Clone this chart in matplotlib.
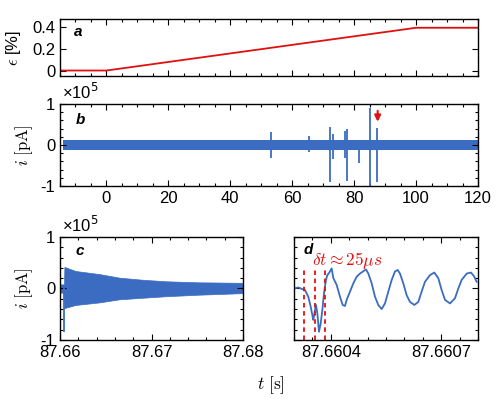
import numpy as np
import matplotlib
matplotlib.use('Agg')
import matplotlib.pyplot as plt
from matplotlib.ticker import MultipleLocator, FormatStrFormatter

plt.rcParams['font.family'] = ['Liberation Sans', 'DejaVu Sans']
plt.rcParams['mathtext.fontset'] = 'cm'
plt.rcParams['axes.unicode_minus'] = False

blue = '#3b6cc2'
red = '#e01010'

#%% data
# a: strain ramp
a_t = [-15, 0, 100, 120]
a_eps = [0.0, 0.0, 0.39, 0.39]

# b: background noise band (x1e5 pA) and spikes
b_band_t = [-14, 120]
b_band_hi = [0.12, 0.12]
b_band_lo = [-0.11, -0.11]
b_spike_t = [53.2, 65.5, 72.2, 73.2, 77.1, 77.6, 81.7, 85.1, 87.5]
b_spike_hi = [0.31, 0.22, 0.43, 0.27, 0.35, 0.40, 0.12, 0.90, 0.42]
b_spike_lo = [-0.32, -0.16, -0.90, -0.33, -0.32, -0.88, -0.43, -1.0, -0.90]
b_arrow_t = 87.6

# c: envelope of the ringing after the event
c_t = [87.6600, 87.66044, 87.66048, 87.6617, 87.6643, 87.6665, 87.6690,
       87.6716, 87.6752, 87.6800]
c_hi = [0.08, 0.08, 0.42, 0.34, 0.28, 0.21, 0.17, 0.14, 0.12, 0.11]
c_lo = [-0.08, -0.08, -0.38, -0.32, -0.27, -0.21, -0.18, -0.15, -0.12, -0.09]
c_spike_t = 87.66046
c_spike_lo = -0.84

# d: close-up, time in microseconds after 87.6603 s
d_t0 = 87.6603
d_us = [0, 11.8, 25.3, 29.9, 38.9, 45.3, 50.7, 52.5, 57.1, 59.8, 63.4, 67.9,
        72.5, 77.0, 81.5, 86.9, 90.6, 96.0, 102.3, 106.9, 115.9, 125.0, 132.2,
        138.6, 143.1, 152.2, 161.2, 170.3, 179.3, 195.6, 202.0, 211.1, 220.1,
        229.1, 238.2, 247.2, 256.3, 265.4, 274.4, 281.7, 288.0, 297.0, 306.1,
        315.2, 327.0, 337.8, 346.9, 355.9, 369.5, 381.3, 392.1, 401.2, 410.3,
        423.9, 437.4, 446.5, 455.5, 469.2, 480.9, 490.0, 496.3]
d_val = [0.00, 0.02, -0.02, -0.03, -0.16, -0.35, -0.55, -0.61, -0.42, -0.32,
         -0.48, -0.84, -0.68, -0.42, -0.09, 0.165, 0.26, 0.31, 0.39, 0.20,
         0.07, -0.16, -0.32, -0.34, -0.22, -0.06, 0.10, 0.23, 0.29, 0.37,
         0.29, 0.10, -0.16, -0.32, -0.40, -0.29, -0.06, 0.165, 0.33, 0.36,
         0.29, 0.10, -0.13, -0.26, -0.32, -0.26, -0.06, 0.13, 0.26, 0.31,
         0.20, -0.03, -0.22, -0.29, -0.19, 0.00, 0.165, 0.29, 0.31, 0.23, 0.13]
d_marks_us = [28, 58, 85]
d_marks_top = 0.39

#%% figure
fig = plt.figure(figsize=(5, 3.99), dpi=100)
ax_a = fig.add_axes([0.12, 0.8095, 0.836, 0.1429])
ax_b = fig.add_axes([0.12, 0.5338, 0.836, 0.2055])
ax_c = fig.add_axes([0.12, 0.1479, 0.366, 0.2581])
ax_d = fig.add_axes([0.588, 0.1479, 0.368, 0.2581])

for ax in [ax_a, ax_b, ax_c, ax_d]:
    ax.tick_params(which='both', direction='in', top=True, right=True,
                   labelsize=12, width=0.8)
    ax.tick_params(which='major', length=4)
    ax.tick_params(which='minor', length=2.2)
    for s in ax.spines.values():
        s.set_linewidth(1.0)

# a
ax_a.plot(a_t, a_eps, color=red, lw=1.3)
ax_a.set_xlim(-15, 120)
ax_a.set_ylim(-0.05, 0.47)
ax_a.xaxis.set_major_locator(MultipleLocator(20))
ax_a.xaxis.set_minor_locator(MultipleLocator(5))
ax_a.set_xticklabels([])
ax_a.set_yticks([0, 0.2, 0.4])
ax_a.set_yticklabels(['0', '0.2', '0.4'])
ax_a.set_ylabel(r'$\epsilon$ [%]', fontsize=12)
ax_a.yaxis.set_label_coords(-0.089, 0.5)
ax_a.text(0.043, 0.777, 'a', transform=ax_a.transAxes, fontsize=11,
          fontweight='bold', fontstyle='italic', ha='center', va='center')

# b
ax_b.fill_between(b_band_t, b_band_lo, b_band_hi, color=blue, lw=0)
ax_b.vlines(b_spike_t, b_spike_lo, b_spike_hi, color=blue, lw=1.3)
ax_b.annotate('', xy=(b_arrow_t, 0.5), xytext=(b_arrow_t, 0.9),
              arrowprops=dict(arrowstyle='-|>', color=red, lw=1.5,
                              mutation_scale=9))
ax_b.set_xlim(-15, 120)
ax_b.set_ylim(-1, 1)
ax_b.xaxis.set_major_locator(MultipleLocator(20))
ax_b.xaxis.set_minor_locator(MultipleLocator(5))
ax_b.set_yticks([-1, 0, 1])
ax_b.set_yticklabels(['-1', '0', '1'])
ax_b.yaxis.set_minor_locator(MultipleLocator(0.2))
ax_b.set_ylabel(r'$i\ [\mathrm{pA}]$', fontsize=12)
ax_b.yaxis.set_label_coords(-0.06, 0.5)
ax_b.text(0.005, 1.02, u'×10$^5$', transform=ax_b.transAxes, fontsize=12,
          ha='left', va='bottom', math_fontfamily='dejavusans')
ax_b.text(0.05, 0.80, 'b', transform=ax_b.transAxes, fontsize=11,
          fontweight='bold', fontstyle='italic', ha='center', va='center')

# c
ax_c.fill_between(c_t, c_lo, c_hi, color=blue, lw=0.5, edgecolor=blue)
ax_c.vlines([c_spike_t], [c_spike_lo], [0], color=blue, lw=1.3)
ax_c.set_xlim(87.66, 87.68)
ax_c.set_ylim(-1, 1)
ax_c.set_xticks([87.66, 87.67, 87.68])
ax_c.xaxis.set_major_formatter(FormatStrFormatter('%.2f'))
ax_c.xaxis.set_minor_locator(MultipleLocator(0.002))
ax_c.set_yticks([-1, 0, 1])
ax_c.set_yticklabels(['-1', '0', '1'])
ax_c.yaxis.set_minor_locator(MultipleLocator(0.2))
ax_c.set_ylabel(r'$i\ [\mathrm{pA}]$', fontsize=12)
ax_c.yaxis.set_label_coords(-0.137, 0.5)
ax_c.text(0.01, 1.02, u'×10$^5$', transform=ax_c.transAxes, fontsize=12,
          ha='left', va='bottom', math_fontfamily='dejavusans')
ax_c.text(0.109, 0.864, 'c', transform=ax_c.transAxes, fontsize=11,
          fontweight='bold', fontstyle='italic', ha='center', va='center')

# d
d_t = d_t0 + np.array(d_us) * 1e-6
ax_d.plot(d_t, d_val, color=blue, lw=1.3)
for us in d_marks_us:
    ax_d.plot([d_t0 + us * 1e-6] * 2, [-1, d_marks_top], color=red, lw=1.3,
              ls=(0, (2.5, 2)))
ax_d.set_xlim(87.6603, 87.6608)
ax_d.set_ylim(-1, 1)
ax_d.set_xticks([87.6604, 87.6607])
ax_d.xaxis.set_major_formatter(FormatStrFormatter('%.4f'))
ax_d.xaxis.set_minor_locator(MultipleLocator(0.00005))
ax_d.set_yticks([-1, 0, 1])
ax_d.yaxis.set_minor_locator(MultipleLocator(0.2))
ax_d.set_yticklabels([])
ax_d.text(0.096, 0.73, r'$\delta t \approx 25\mu s$', transform=ax_d.transAxes,
          fontsize=12.5, color=red, ha='left', va='baseline')
ax_d.text(0.076, 0.874, 'd', transform=ax_d.transAxes, fontsize=11,
          fontweight='bold', fontstyle='italic', ha='center', va='center')

fig.text(0.542, 1 - 385 / 399., r'$t\ [\mathrm{s}]$', fontsize=12.5,
         ha='center', va='center')

fig.savefig('out.png', dpi=100)
